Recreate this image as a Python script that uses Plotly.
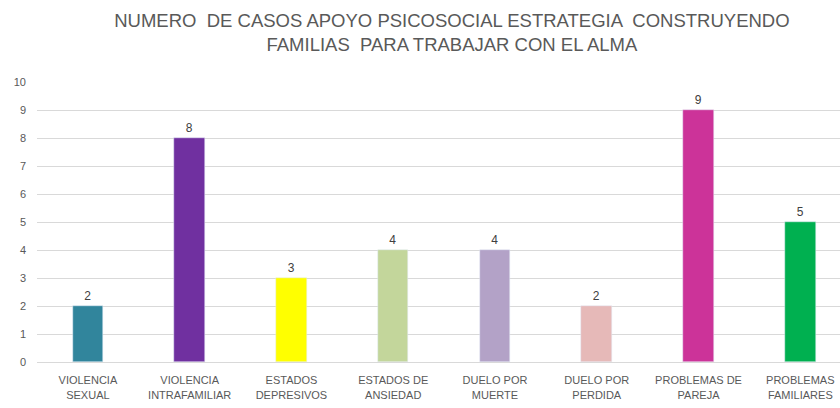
import plotly.graph_objects as go

categories = ["VIOLENCIA<br>SEXUAL", "VIOLENCIA<br>INTRAFAMILIAR", "ESTADOS<br>DEPRESIVOS",
              "ESTADOS DE<br>ANSIEDAD", "DUELO POR<br>MUERTE", "DUELO POR<br>PERDIDA",
              "PROBLEMAS DE<br>PAREJA", "PROBLEMAS<br>FAMILIARES"]
casos = [2, 8, 3, 4, 4, 2, 9, 5]
colores = ["#31859C", "#7030A0", "#FFFF00", "#C3D69B", "#B3A2C7", "#E6B9B8", "#CC3399", "#00B050"]
y_ticks = list(range(0, 11))

x_pos = list(range(len(categories)))

fig = go.Figure(go.Bar(
    x=x_pos, y=casos, marker_color=colores, width=0.3,
    text=[str(v) for v in casos], textposition="outside",
    textfont=dict(size=12, color="#404040"), cliponaxis=False,
))

font_fam = "Liberation Sans Narrow, Liberation Sans, Arial, sans-serif"
fig.update_layout(
    width=840, height=408,
    margin=dict(l=37, r=0, t=82, b=46),
    paper_bgcolor="white", plot_bgcolor="white",
    font=dict(family=font_fam, color="#595959"),
    title=dict(text="NUMERO  DE CASOS APOYO PSICOSOCIAL ESTRATEGIA  CONSTRUYENDO<br>FAMILIAS  PARA TRABAJAR CON EL ALMA",
               x=0.538, xanchor="center", y=0.935, yanchor="top",
               font=dict(size=18.5, color="#595959", family=font_fam)),
    showlegend=False,
    bargap=0,
)
fig.update_xaxes(range=[-0.5, 7.39], tickvals=x_pos, ticktext=categories,
                 tickfont=dict(size=11, color="#595959"), showgrid=False,
                 showline=True, linecolor="#D9D9D9", ticks="", zeroline=False,
                 ticklabelstandoff=8)
fig.update_yaxes(range=[0, 10], tickvals=y_ticks, showgrid=True, gridcolor="#D9D9D9",
                 tickfont=dict(size=11, color="#595959"), zeroline=False, ticks="",
                 ticklabelstandoff=10)

fig.write_html("out.html")
